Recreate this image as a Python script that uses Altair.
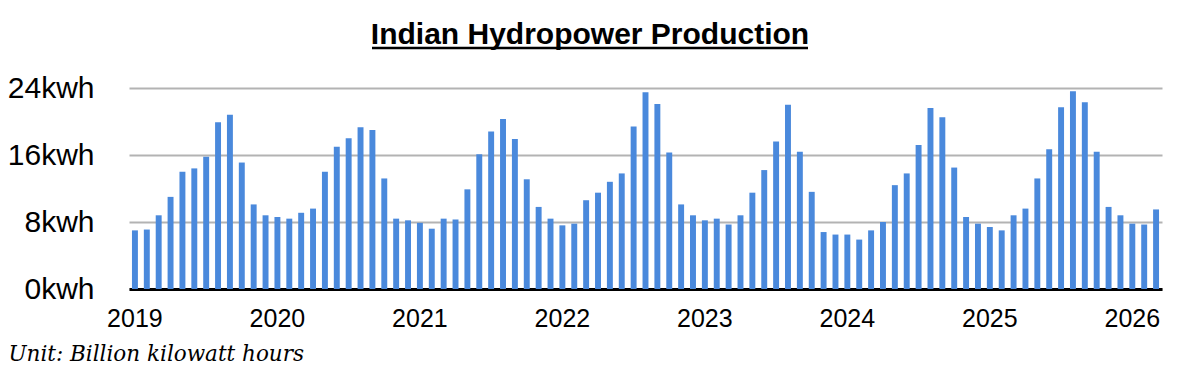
import altair as alt
import pandas as pd

years = [2019, 2020, 2021, 2022, 2023, 2024, 2025, 2026]
values = [
    7.0, 7.1, 8.8, 11.0, 14.0, 14.4, 15.8, 19.9, 20.8, 15.1, 10.1, 8.8,
    8.6, 8.4, 9.1, 9.6, 14.0, 17.0, 18.0, 19.3, 19.0, 13.2, 8.4, 8.2,
    7.9, 7.2, 8.4, 8.3, 11.9, 16.1, 18.8, 20.3, 17.9, 13.1, 9.8, 8.4,
    7.6, 7.8, 10.6, 11.5, 12.8, 13.8, 19.4, 23.5, 22.1, 16.3, 10.1, 8.8,
    8.2, 8.4, 7.7, 8.8, 11.5, 14.2, 17.6, 22.0, 16.4, 11.6, 6.8, 6.5,
    6.5, 5.9, 7.0, 8.0, 12.4, 13.8, 17.2, 21.6, 20.5, 14.5, 8.6, 7.8,
    7.4, 7.0, 8.8, 9.6, 13.2, 16.7, 21.7, 23.6, 22.3, 16.4, 9.8, 8.8,
    7.8, 7.7, 9.5,
]
months = [f"{y}-{m:02d}" for y in years for m in range(1, 13)][: len(values)]
y_ticks = [0, 8, 16, 24]
title_text = ["Indian Hydropower Production"]

df = pd.DataFrame({"month": months, "value": values})

W, H = 1033, 201

bars = alt.Chart(df).mark_bar(color="#4a89dc").encode(
    x=alt.X(
        "month:O",
        sort=None,
        scale=alt.Scale(paddingInner=0.5, paddingOuter=0.25),
        axis=alt.Axis(
            title="Unit: Billion kilowatt hours",
            titleFont="DejaVu Serif",
            titleFontStyle="italic",
            titleFontWeight="normal",
            titleFontSize=21.5,
            titleColor="black",
            titleAnchor="start",
            titleAlign="left",
            titleBaseline="alphabetic",
            titleX=-121,
            titleY=71,
            labelExpr="substring(datum.value,5,7)=='01' ? substring(datum.value,0,4) : ''",
            labelAngle=0,
            labelFont="Liberation Sans",
            labelFontSize=25,
            labelColor="black",
            labelPadding=17,
            ticks=False,
            domainColor="black",
            domainWidth=3,
            grid=False,
        ),
    ),
    y=alt.Y(
        "value:Q",
        scale=alt.Scale(domain=[0, 24], nice=False),
        axis=alt.Axis(
            title=None,
            values=y_ticks,
            labelExpr="datum.value + 'kwh'",
            labelFont="Liberation Sans",
            labelFontSize=30,
            labelColor="black",
            labelPadding=35,
            ticks=False,
            domain=False,
            gridColor="#b3b3b3",
            gridWidth=2,
        ),
    ),
)

title = alt.Chart(pd.DataFrame({"t": title_text})).mark_text(
    font="Liberation Sans",
    fontSize=30,
    fontWeight="bold",
    color="black",
    align="center",
    baseline="alphabetic",
).encode(text="t:N", x=alt.value(461), y=alt.value(-44))

underline = alt.Chart(pd.DataFrame({"a": [0]})).mark_rule(color="black", strokeWidth=2.5).encode(
    x=alt.value(243), x2=alt.value(679), y=alt.value(-40)
)

chart = alt.layer(bars, title, underline).properties(
    width=W,
    height=H,
    autosize=alt.AutoSizeParams(type="none"),
    padding={"left": 121, "top": 80, "right": 10, "bottom": 76},
).configure_view(stroke=None)

chart.save("out.html", embed_options={"renderer": "svg", "actions": False})
